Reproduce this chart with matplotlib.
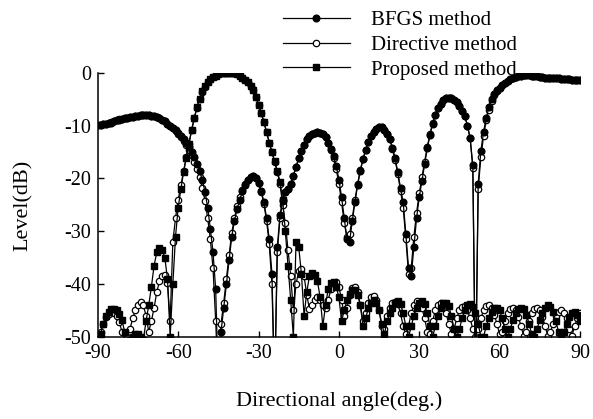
import numpy as np
import matplotlib.pyplot as plt
from matplotlib.lines import Line2D

plt.rcParams['font.family'] = 'Liberation Serif'
plt.rcParams['axes.unicode_minus'] = False

# one sample per degree, -90 .. 90
angles = np.arange(-90, 91)

# BFGS method (dB)
bfgs = [
    -9.8, -9.8, -9.7, -9.6, -9.5, -9.4, -9.2, -9.0, -8.9, -8.7,
    -8.6, -8.5, -8.4, -8.3, -8.2, -8.1, -8.0, -8.0, -8.0, -8.0,
    -8.1, -8.2, -8.4, -8.6, -8.9, -9.2, -9.6, -10.0, -10.4, -10.9,
    -11.4, -12.0, -12.6, -13.3, -14.1, -15.0, -16.0, -17.2, -18.6, -20.3,
    -22.5, -25.5, -29.5, -34.0, -41.0, -60.0, -49.0, -44.5, -40.0, -35.5,
    -31.0, -28.0, -25.8, -24.0, -22.4, -21.2, -20.3, -19.7, -19.5, -19.9,
    -20.8, -22.3, -24.5, -27.5, -31.5, -38.0, -60.0, -33.0, -27.0, -24.0,
    -22.5, -22.0, -21.0, -19.5, -17.8, -16.2, -14.8, -13.6, -12.6, -11.9,
    -11.5, -11.3, -11.2, -11.3, -11.6, -12.2, -13.2, -14.4, -15.8, -17.6,
    -20.2, -23.5, -27.5, -31.5, -32.0, -28.0, -24.5, -21.2, -18.5, -16.4,
    -14.6, -13.0, -11.9, -11.1, -10.6, -10.3, -10.3, -10.8, -11.6, -12.5,
    -14.2, -16.2, -18.8, -21.8, -24.5, -30.5, -37.0, -38.5, -33.0, -27.5,
    -23.5, -20.5, -17.3, -14.3, -11.8, -9.6, -7.9, -6.7, -5.8, -5.2,
    -4.8, -4.7, -4.8, -5.1, -5.6, -6.3, -7.2, -8.2, -10.0, -12.4,
    -17.5, -60.0, -21.0, -14.8, -11.2, -8.5, -6.5, -5.0, -4.0, -3.3,
    -2.8, -2.3, -1.9, -1.5, -1.2, -1.0, -0.8, -0.6, -0.5, -0.4,
    -0.4, -0.4, -0.5, -0.5, -0.6, -0.7, -0.8, -0.9, -0.9, -1.0,
    -1.0, -1.0, -1.0, -1.1, -1.1, -1.2, -1.2, -1.3, -1.3, -1.3,
    -1.4,
]

# Directive method, beam toward -40 deg
directive_a = [
    -50.5, -49.0, -47.5, -46.3, -45.6, -45.3, -45.4, -46.0, -47.2, -49.0,
    -51.0, -50.0, -48.5, -46.5, -45.0, -44.0, -43.4, -44.0, -46.0, -49.0,
    -47.0, -44.5, -41.5, -39.5, -38.5, -38.3, -39.8, -47.0, -32.0, -27.5,
    -24.0, -21.3, -18.5, -16.0, -13.4, -10.9, -8.6, -6.6, -5.0, -3.6,
    -2.6, -1.8, -1.2, -0.8, -0.5, -0.3, -0.1, 0.0, 0.0, 0.0,
    0.0, -0.1, -0.3, -0.5, -0.9, -1.3, -1.8, -2.4, -3.3, -4.5,
    -6.0, -7.6, -9.3, -11.2, -13.2, -15.0, -16.8, -18.8, -21.0, -25.0,
    -28.5, -33.5, -38.5, -45.0, -40.0, -37.5, -37.2, -38.5, -42.0, -44.8,
    -44.0, -43.0, -42.5, -43.0, -44.0, -44.5, -43.0, -41.0, -39.8, -39.6,
    -40.5, -43.0, -46.0, -44.5, -42.0, -40.8, -40.5, -41.5, -44.0, -47.0,
    -45.5, -43.5, -42.5, -42.2, -43.0, -45.0, -48.0, -48.5, -46.0, -44.5,
    -43.5, -43.3, -43.8, -45.5, -48.0, -49.5, -48.0, -45.5, -44.0, -43.2,
    -43.5, -44.5, -46.5, -49.0, -49.5, -47.0, -45.0, -44.0, -43.5, -44.0,
    -45.5, -47.5, -49.5, -48.5, -46.5, -45.0, -44.3, -44.2, -45.0, -46.5,
    -48.5, -50.0, -48.5, -46.5, -45.0, -44.2, -44.0, -44.5, -45.8, -47.5,
    -49.5, -49.0, -47.0, -45.5, -44.8, -44.5, -45.0, -46.2, -48.0, -49.8,
    -49.0, -47.0, -45.5, -44.8, -44.5, -45.0, -46.3, -48.0, -49.8, -49.0,
    -47.5, -46.0, -45.3, -45.0, -45.4, -46.5, -48.5, -49.8, -48.0, -46.5,
    -45.5,
]

# Directive method, second pattern (follows BFGS closely)
directive_b = [
    -9.9, -9.8, -9.7, -9.6, -9.5, -9.3, -9.2, -9.0, -8.8, -8.7,
    -8.6, -8.5, -8.4, -8.3, -8.2, -8.1, -8.0, -8.0, -8.0, -8.0,
    -8.1, -8.2, -8.4, -8.6, -8.9, -9.2, -9.6, -10.0, -10.5, -11.0,
    -11.6, -12.2, -12.9, -13.7, -14.6, -15.6, -16.8, -18.2, -19.8, -21.8,
    -24.2, -27.5, -31.5, -37.0, -47.0, -60.0, -47.5, -43.5, -39.0, -34.5,
    -30.3, -27.5, -25.3, -23.6, -22.2, -21.0, -20.2, -19.7, -19.5, -19.9,
    -20.9, -22.5, -24.8, -28.0, -32.5, -40.0, -60.0, -34.0, -27.5, -24.3,
    -22.5, -22.0, -21.0, -19.5, -17.8, -16.2, -14.8, -13.6, -12.6, -11.9,
    -11.5, -11.3, -11.2, -11.3, -11.6, -12.2, -13.2, -14.6, -16.2, -18.2,
    -21.0, -24.5, -28.5, -31.0, -30.5, -27.5, -24.0, -21.0, -18.4, -16.3,
    -14.6, -13.0, -11.9, -11.1, -10.6, -10.3, -10.3, -10.8, -11.6, -12.5,
    -14.4, -16.5, -19.2, -22.3, -25.5, -31.5, -38.0, -37.0, -31.0, -26.5,
    -22.8, -19.8, -16.8, -14.0, -11.6, -9.5, -7.9, -6.7, -5.8, -5.2,
    -4.8, -4.7, -4.8, -5.1, -5.6, -6.3, -7.2, -8.2, -10.0, -12.4,
    -18.0, -60.0, -22.0, -16.0, -12.0, -9.0, -7.0, -5.3, -4.2, -3.4,
    -2.8, -2.3, -1.9, -1.5, -1.2, -1.0, -0.8, -0.6, -0.5, -0.4,
    -0.4, -0.4, -0.5, -0.5, -0.6, -0.7, -0.8, -0.9, -0.9, -1.0,
    -1.0, -1.0, -1.0, -1.1, -1.1, -1.2, -1.2, -1.3, -1.3, -1.3,
    -1.4,
]

# Proposed method (dB)
proposed = [
    -51.0, -49.5, -47.5, -46.0, -45.2, -44.8, -44.7, -45.0, -45.6, -46.8,
    -49.0, -51.0, -50.5, -50.0, -49.5, -49.5, -50.0, -50.5, -47.0, -44.0,
    -40.5, -36.5, -34.0, -33.2, -33.5, -35.0, -39.0, -50.0, -40.0, -31.0,
    -25.5, -22.0, -18.8, -16.2, -13.5, -10.8, -8.5, -6.5, -4.9, -3.5,
    -2.5, -1.8, -1.2, -0.8, -0.5, -0.3, -0.1, 0.0, 0.0, 0.0,
    0.0, -0.1, -0.3, -0.5, -0.9, -1.3, -1.8, -2.4, -3.3, -4.5,
    -6.0, -7.6, -9.3, -11.2, -13.2, -15.0, -16.7, -18.6, -20.6, -24.0,
    -30.0, -36.5, -43.0, -50.0, -32.0, -33.0, -38.0, -46.0, -41.5, -38.5,
    -37.9, -38.2, -39.5, -42.5, -48.0, -44.0, -41.0, -39.8, -39.6, -40.5,
    -42.5, -47.0, -45.0, -43.0, -41.8, -41.2, -41.1, -42.0, -44.0, -48.0,
    -46.5, -44.5, -43.5, -43.0, -43.5, -45.0, -47.5, -49.5, -47.0, -45.5,
    -44.5, -43.5, -43.2, -43.8, -45.5, -48.0, -50.0, -48.0, -46.0, -44.5,
    -43.5, -43.2, -43.8, -45.5, -48.0, -50.0, -48.0, -46.0, -44.5, -43.5,
    -43.5, -44.2, -46.0, -48.5, -50.0, -48.5, -46.5, -45.0, -44.0, -43.8,
    -44.3, -45.5, -47.5, -50.0, -50.0, -48.0, -46.5, -45.2, -44.6, -44.5,
    -45.0, -46.5, -48.5, -50.0, -48.5, -46.8, -45.5, -44.7, -44.5, -44.8,
    -45.8, -47.5, -49.5, -50.0, -48.5, -46.8, -45.5, -44.5, -44.0, -44.3,
    -45.3, -47.0, -49.0, -50.0, -49.0, -47.5, -46.2, -45.5, -45.2, -45.8,
    -47.0,
]

labels = ["BFGS method", "Directive method", "Proposed method"]

fig = plt.figure(figsize=(5.93, 4.19), dpi=100)
ax = fig.add_axes([0.165, 0.196, 0.813, 0.63])

lw = 0.9
open_c = dict(marker="o", ms=4.6, mfc="white", mec="black", mew=0.9)
fill_c = dict(marker="o", ms=4.8, mfc="black", mec="black")
fill_s = dict(marker="s", ms=4.8, mfc="black", mec="black")

ax.plot(angles, directive_a, color="black", lw=lw, **open_c)
ax.plot(angles, directive_b, color="black", lw=lw, **open_c)
ax.plot(angles, bfgs, color="black", lw=lw, **fill_c)
ax.plot(angles, proposed, color="black", lw=lw, **fill_s)

ax.set_xlim(-90, 90)
ax.set_ylim(-50, 0)
ax.set_xticks(range(-90, 91, 30))
ax.set_yticks(range(-50, 1, 10))
ax.spines[["top", "right"]].set_visible(False)
ax.spines[["left", "bottom"]].set_linewidth(1.1)
ax.tick_params(direction="in", length=4, width=1, labelsize=14.5, pad=5)

ax.set_xlabel("Directional angle(deg.)", fontsize=16)
ax.xaxis.set_label_coords(0.5, -0.205)
ax.set_ylabel("Level(dB)", fontsize=16)
ax.yaxis.set_label_coords(-0.135, 0.5)

handles = [
    Line2D([], [], color="black", lw=lw, **fill_c),
    Line2D([], [], color="black", lw=lw, **open_c),
    Line2D([], [], color="black", lw=lw, **fill_s),
]
fig.legend(handles, labels, loc="upper left", bbox_to_anchor=(0.477, 0.975),
           frameon=False, fontsize=15, handlelength=3.2, handletextpad=1.05,
           labelspacing=0.25, borderpad=0, borderaxespad=0)

fig.savefig("out.png", dpi=100)
